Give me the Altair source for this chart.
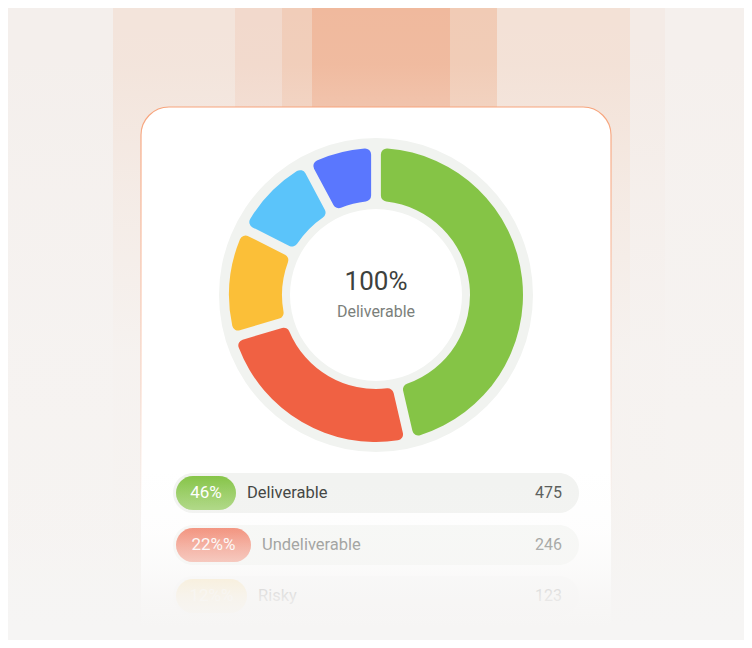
import math
import altair as alt
import pandas as pd

# ---------------- data ----------------
categories = ["Deliverable", "Undeliverable", "Risky", "Unknown", "Duplicate"]
counts = [475, 246, 123, 100, 80]
seg_colors = ["#85c446", "#f06143", "#fbbf38", "#5bc4fa", "#5a77fe"]
pct_labels = ["46%", "22%%", "12%%"]
legend_names = ["Deliverable", "Undeliverable", "Risky"]
legend_counts = ["475", "246", "123"]
center_value = "100%"
center_label = "Deliverable"

# ---------------- layout (reference pixel coords) ----------------
W, H = 736, 632
CX, CY = 376, 295
band_edges = [0, 113, 235, 282, 312, 450, 497, 630, 665, 752]
band_cols = ["#f4efec", "#f3e4db", "#f2d9cc", "#f1cdb9", "#f0b99d",
             "#f1cbb5", "#f3e1d6", "#f4ebe6", "#f5f0ed"]
row_y = [493, 545, 596]
badge_w = [60, 75, 71]
row_op = [1.0, 0.62, 0.3]
label_col = ["#3a3d3a", "#888a88", "#a0a0a0"]

xs = alt.Scale(domain=[8, 744], nice=False, zero=False)
ys = alt.Scale(domain=[8, 640], nice=False, zero=False, reverse=True)
X = alt.X("x:Q", scale=xs, axis=None)
Y = alt.Y("y:Q", scale=ys, axis=None)


def grad(stops, vertical=True):
    return alt.LinearGradient(
        gradient="linear",
        stops=[alt.GradientStop(color=c, offset=o) for o, c in stops],
        x1=0, x2=0 if vertical else 1, y1=0, y2=1 if vertical else 0,
    )


# background bands
bands = pd.DataFrame({
    "x": band_edges[:-1], "x2": band_edges[1:],
    "y": [0] * len(band_cols), "y2": [648] * len(band_cols),
    "c": band_cols,
})
band_layer = alt.Chart(bands).mark_rect().encode(
    x=X, x2="x2:Q", y=Y, y2="y2:Q", fill=alt.Fill("c:N", scale=None))

fade = pd.DataFrame({"x": [0], "x2": [752], "y": [0], "y2": [648]})
fade_layer = alt.Chart(fade).mark_rect(fill=grad([
    (0, "rgba(246,243,241,0)"), (0.1, "rgba(246,243,241,0.03)"),
    (0.3, "rgba(246,243,241,0.5)"), (0.55, "rgba(246,243,241,0.93)"),
    (1, "rgba(246,244,242,1)")])).encode(x=X, x2="x2:Q", y=Y, y2="y2:Q")

# card
card = pd.DataFrame({"x": [141], "x2": [611], "y": [107], "y2": [660]})
card_layer = alt.Chart(card).mark_rect(
    fill="#ffffff", cornerRadius=28, strokeWidth=1.2,
    stroke=grad([(0, "#f7a47c"), (0.5, "rgba(247,180,150,0.5)"),
                 (0.75, "rgba(247,200,180,0)"), (1, "rgba(247,200,180,0)")]),
).encode(x=X, x2="x2:Q", y=Y, y2="y2:Q")

# donut
ring_layer = alt.Chart(pd.DataFrame({"v": [1]})).mark_arc(
    theta=0, theta2=2 * math.pi, innerRadius=86, outerRadius=157,
    fill="#f1f3f0").encode(x=alt.value(CX - 8), y=alt.value(CY - 8))

seg = pd.DataFrame({"cat": categories, "count": counts,
                    "idx": list(range(len(counts)))})
arc_layer = alt.Chart(seg).mark_arc(
    innerRadius=94, outerRadius=147, padAngle=0.056, cornerRadius=6,
).encode(
    theta=alt.Theta("count:Q", stack=True),
    order=alt.Order("idx:Q"),
    color=alt.Color("cat:N", scale=alt.Scale(domain=categories, range=seg_colors),
                    legend=None),
    x=alt.value(CX - 8), y=alt.value(CY - 8),
)

center = pd.DataFrame({"x": [CX, CX], "y": [282, 312],
                       "t": [center_value, center_label]})
cv_layer = alt.Chart(center.iloc[[0]]).mark_text(
    font="Roboto", fontSize=26, color="#3d413d", baseline="middle").encode(
    x=X, y=Y, text="t:N")
cl_layer = alt.Chart(center.iloc[[1]]).mark_text(
    font="Roboto", fontSize=16, color="#7b807b", baseline="middle").encode(
    x=X, y=Y, text="t:N")

# legend rows
rows = pd.DataFrame({
    "y": [r - 20 for r in row_y], "y2": [r + 20 for r in row_y],
    "x": [173] * 3, "x2": [579] * 3, "op": row_op,
})
pill_layer = alt.Chart(rows).mark_rect(fill="#f2f3f1", cornerRadius=20).encode(
    x=X, x2="x2:Q", y=Y, y2="y2:Q", opacity=alt.Opacity("op:Q", scale=None))

badges = pd.DataFrame({
    "x": [176] * 3, "x2": [176 + w for w in badge_w],
    "y": [r - 17 for r in row_y], "y2": [r + 17 for r in row_y],
    "c": seg_colors[:3], "op": [1.0, 0.75, 0.3],
})
badge_layer = alt.Chart(badges).mark_rect(cornerRadius=17).encode(
    x=X, x2="x2:Q", y=Y, y2="y2:Q", fill=alt.Fill("c:N", scale=None),
    opacity=alt.Opacity("op:Q", scale=None))
badge_shine = alt.Chart(badges).mark_rect(cornerRadius=17, fill=grad([
    (0, "rgba(255,255,255,0)"), (1, "rgba(255,255,255,0.3)")])).encode(
    x=X, x2="x2:Q", y=Y, y2="y2:Q")

pct = pd.DataFrame({"x": [176 + w / 2 for w in badge_w], "y": row_y,
                    "t": pct_labels, "op": [1.0, 0.95, 0.6]})
pct_layer = alt.Chart(pct).mark_text(
    font="Roboto", fontSize=17, color="#ffffff", baseline="middle").encode(
    x=X, y=Y, text="t:N", opacity=alt.Opacity("op:Q", scale=None))

lab = pd.DataFrame({"x": [176 + w + 11 for w in badge_w], "y": row_y,
                    "t": legend_names, "c": label_col})
lab_layer = alt.Chart(lab).mark_text(
    font="Roboto", fontSize=16.5, align="left",
    baseline="middle").encode(x=X, y=Y, text="t:N",
                              color=alt.Color("c:N", scale=None))

cnt = pd.DataFrame({"x": [562] * 3, "y": row_y, "t": legend_counts,
                    "c": ["#555855", "#8f918f", "#a5a5a5"]})
cnt_layer = alt.Chart(cnt).mark_text(
    font="Roboto", fontSize=16, align="right", baseline="middle").encode(
    x=X, y=Y, text="t:N", color=alt.Color("c:N", scale=None))

bottom = pd.DataFrame({"x": [0], "x2": [752], "y": [470], "y2": [648]})
bottom_layer = alt.Chart(bottom).mark_rect(fill=grad([
    (0, "rgba(246,245,244,0)"), (0.35, "rgba(246,245,244,0.15)"),
    (0.55, "rgba(246,245,244,0.45)"), (0.72, "rgba(246,245,244,0.82)"),
    (0.88, "rgba(246,245,244,1)"), (1, "rgba(246,245,244,1)")])).encode(
    x=X, x2="x2:Q", y=Y, y2="y2:Q")

chart = alt.layer(
    band_layer, fade_layer, card_layer, ring_layer, arc_layer,
    cv_layer, cl_layer, pill_layer, badge_layer, badge_shine,
    pct_layer, lab_layer, cnt_layer, bottom_layer,
).properties(
    width=W, height=H, padding=0, background="#f5f2f0",
    autosize=alt.AutoSizeParams(type="none"),
).configure_view(stroke=None)

chart.save("out.html", embed_options={"renderer": "svg", "actions": False})
